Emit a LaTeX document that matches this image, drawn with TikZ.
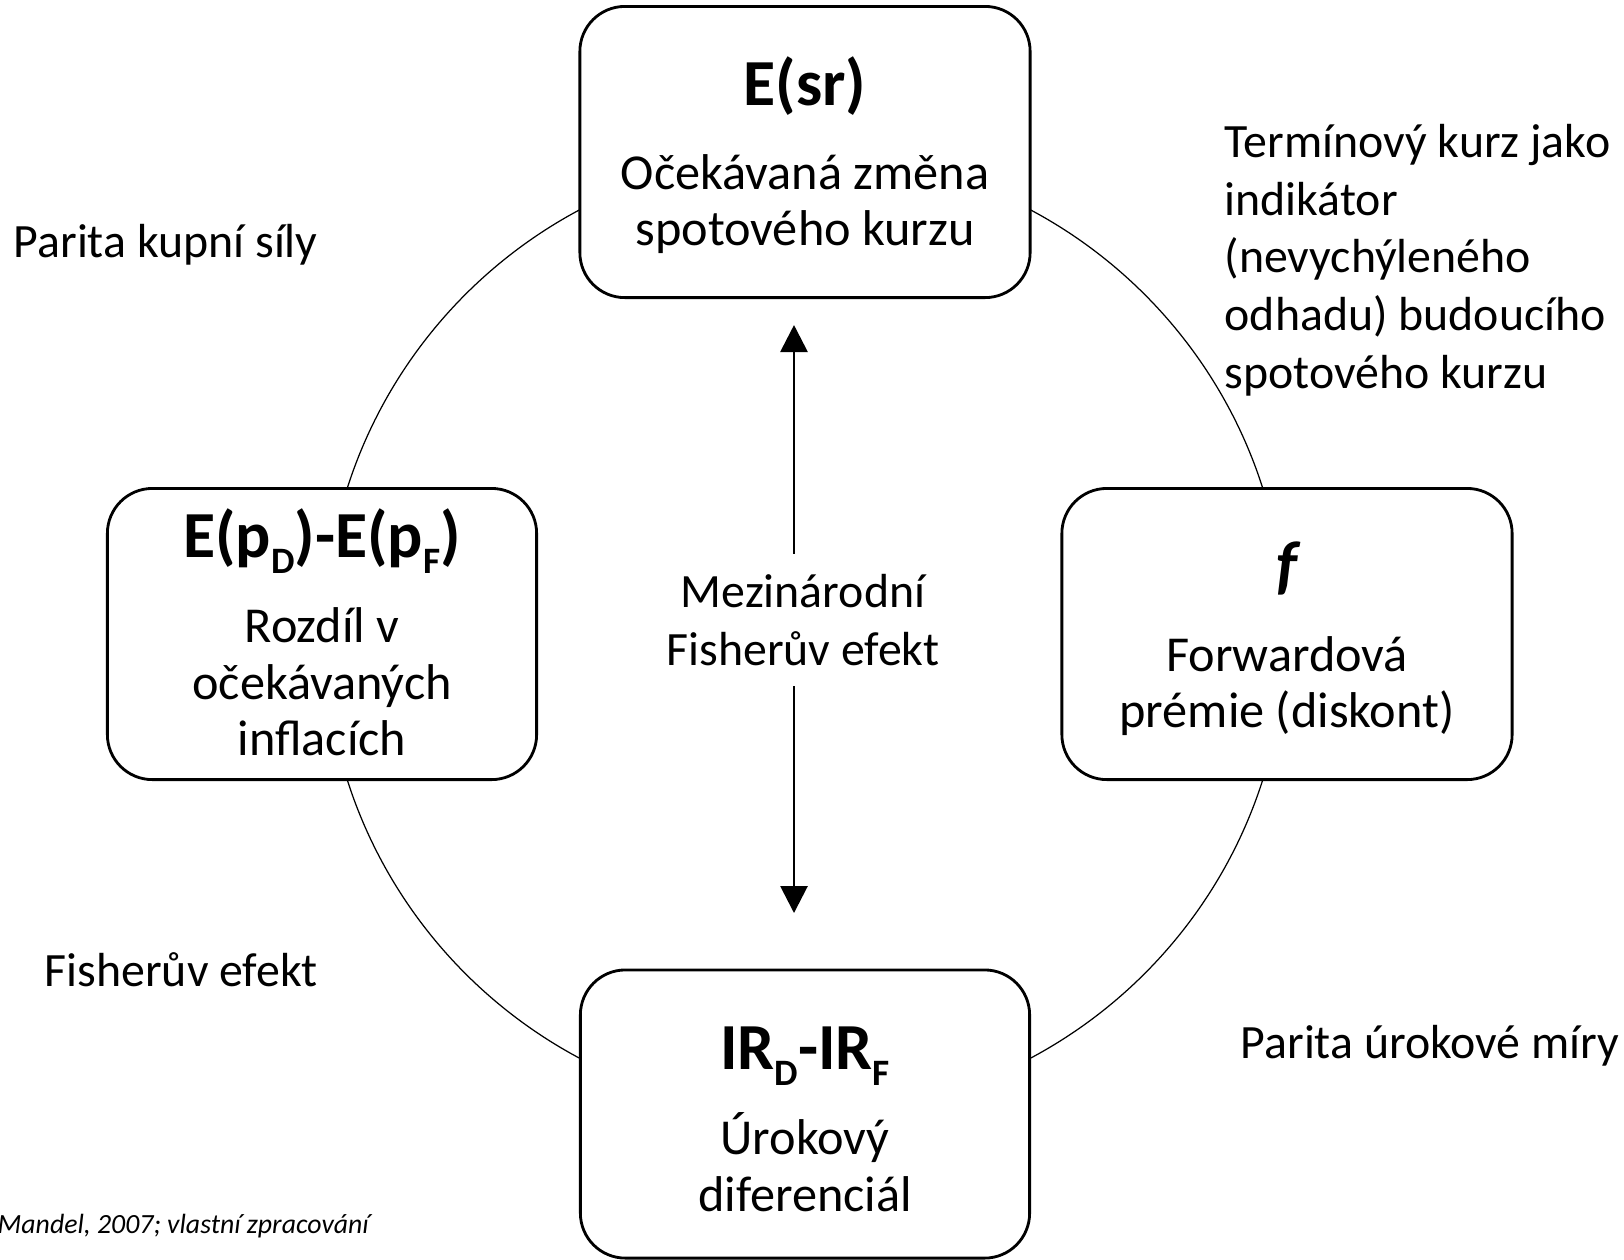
\documentclass[tikz,border=0pt]{standalone}
\usepackage{fontspec}
\setmainfont{Carlito}
\usetikzlibrary{arrows.meta}
\newcommand{\bodyfont}{\fontsize{14.3pt}{16.1pt}\selectfont}
\newcommand{\notefont}{\fontsize{13.6pt}{16.4pt}\selectfont}
\newcommand{\headfont}{\fontsize{18.7pt}{21pt}\selectfont\bfseries}
\newcommand{\lowidx}[1]{\raisebox{-0.24em}{\fontsize{10.6pt}{11pt}\selectfont #1}}
\begin{document}
\begin{tikzpicture}[x=0.01cm, y=-0.01cm,
    box/.style={draw, line width=0.8pt, rounded corners=0.45cm, fill=white, minimum height=2.91cm},
    head/.style={font=\headfont, inner sep=0pt},
    body/.style={font=\bodyfont, align=center, inner sep=0pt},
    note/.style={font=\notefont, align=left, inner sep=0pt},
    both/.style={-{Triangle[width=0.27cm, length=0.27cm]}, line width=0.8pt}]
\useasboundingbox (0,0) rectangle (1624,1259);
\coordinate (hub) at (805,634);
\draw[line width=0.35pt] (hub) circle[radius=4.8cm];

\node (esr) at (805,152) [box, minimum width=4.5cm] {};
\node (esrhead) at (805,86) [head] {E(sr)};
\node (esrbody) at (805,204) [body] {Očekávaná změna\\spotového kurzu};

\node (infl) at (322,634) [box, minimum width=4.29cm] {};
\node (inflhead) at (322,541) [head] {E(p\lowidx{D})-E(p\lowidx{F})};
\node (inflbody) at (322,682) [body] {Rozdíl v\\očekávaných\\inflacích};

\node (fwd) at (1287,634) [box, minimum width=4.5cm] {};
\node (fwdhead) at (1287,568) [head] {\itshape f};
\node (fwdbody) at (1287,686) [body] {Forwardová\\prémie (diskont)};

\node (ir) at (805,1114) [box, minimum width=4.49cm, minimum height=2.88cm] {};
\node (irhead) at (805,1056) [head] {IR\lowidx{D}-IR\lowidx{F}};
\node (irbody) at (805,1162) [body] {Úrokový\\diferenciál};

\node (ppp) at (13,245) [note, anchor=west] {Parita kupní síly};
\node (fe) at (44,970) [note, anchor=west] {Fisherův efekt};
\node (term) at (1224,260) [note, anchor=west] {Termínový kurz jako\\indikátor\\(nevychýleného\\odhadu) budoucího\\spotového kurzu};
\node (irp) at (1240,1046) [note, anchor=west] {Parita úrokové míry};

\node (mfe) at (803,620) [note, align=center, inner sep=0.2cm] {Mezinárodní\\Fisherův efekt};
\coordinate (up) at (794,325);
\coordinate (down) at (794,913);
\draw[both] (mfe.north -| up) -- (up);
\draw[both] (mfe.south -| down) -- (down);

\node (src) at (-3,1233) [anchor=base west, inner sep=0pt, font=\fontsize{7.9pt}{9pt}\selectfont\itshape] {Mandel, 2007; vlastní zpracování};
\end{tikzpicture}
\end{document}
